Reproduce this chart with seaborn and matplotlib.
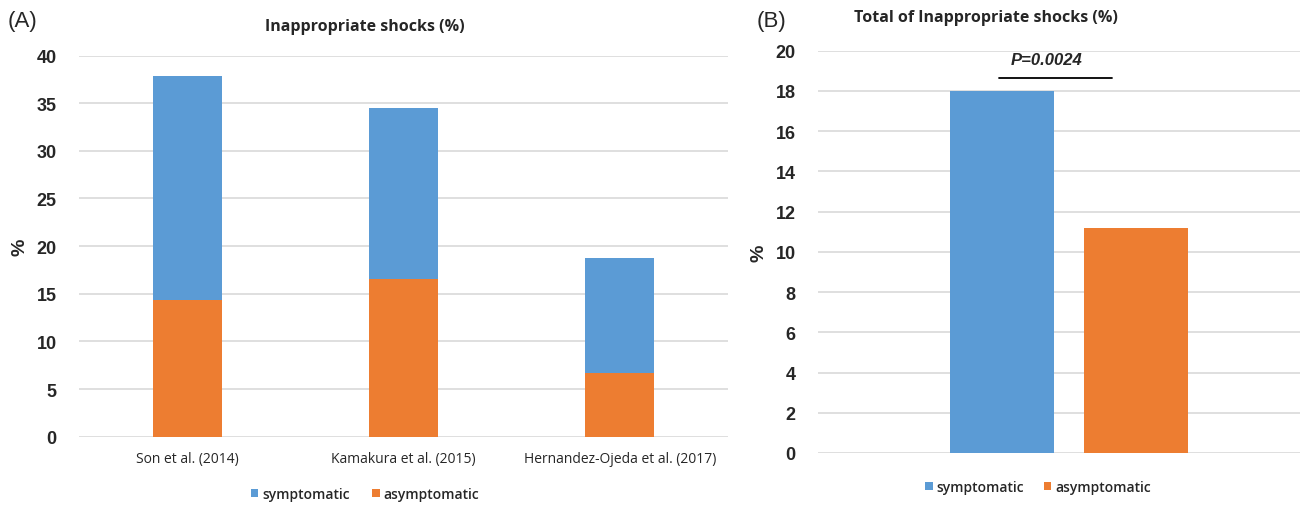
import matplotlib
matplotlib.use("Agg")
import matplotlib.pyplot as plt
import seaborn as sns
import pandas as pd
from matplotlib.patches import Patch

# Per-study inappropriate shock rates (%)
studies = ["Son et al. (2014)", "Kamakura et al. (2015)", "Hernandez-Ojeda et al. (2017)"]
asymptomatic = [14.3, 16.6, 6.7]
symptomatic = [23.5, 17.9, 12.1]

# Pooled totals (%)
groups = ["symptomatic", "asymptomatic"]
totals = [18.0, 11.2]
p_label = "P=0.0024"

BLUE = "#5B9BD5"
ORANGE = "#ED7D31"
GRID = "#D9D9D9"

sns.set_theme(style="white")
plt.rcParams["font.family"] = ["Liberation Sans", "DejaVu Sans"]

fig = plt.figure(figsize=(13.02, 5.06), dpi=100)
ax1 = fig.add_axes([0.0607, 0.135, 0.4984, 0.7533])
ax2 = fig.add_axes([0.6283, 0.1028, 0.3702, 0.795])

# ---- (A) stacked bars per study ----
df_a = pd.DataFrame({
    "study": studies,
    "asym": asymptomatic,
    "total": [a + s for a, s in zip(asymptomatic, symptomatic)],
})
sns.barplot(data=df_a, x="study", y="total", color=BLUE, saturation=1,
            width=0.32, ax=ax1, zorder=3, linewidth=0)
sns.barplot(data=df_a, x="study", y="asym", color=ORANGE, saturation=1,
            width=0.32, ax=ax1, zorder=4, linewidth=0)
ax1.set_ylim(0, 40)
ax1.set_xlim(-0.5, 2.5)
ax1.set_yticks(range(0, 41, 5))
ax1.yaxis.grid(True, color=GRID, linewidth=1.2, zorder=0)
ax1.set_axisbelow(True)
for s in ax1.spines.values():
    s.set_visible(False)
ax1.tick_params(axis="y", length=0, pad=16, labelsize=13)
ax1.tick_params(axis="x", length=0, pad=10, labelsize=10)
for lab in ax1.get_yticklabels():
    lab.set_fontweight("bold")
for lab in ax1.get_xticklabels():
    lab.set_family(["Open Sans", "DejaVu Sans"])
ax1.set_xlabel("")
ax1.set_ylabel("%", fontsize=14, fontweight="bold", labelpad=6)

leg_handles = [Patch(facecolor=BLUE, edgecolor="none", label="symptomatic"),
               Patch(facecolor=ORANGE, edgecolor="none", label="asymptomatic")]
fig.legend(handles=leg_handles, loc="center", bbox_to_anchor=(365 / 1302, 1 - 495 / 506),
           ncol=2, frameon=False, handlelength=0.55, handleheight=0.55,
           handletextpad=0.3, columnspacing=1.6,
           prop={"family": ["Open Sans", "DejaVu Sans"], "size": 10, "weight": "semibold"})

# ---- (B) pooled totals ----
df_b = pd.DataFrame({"group": groups, "value": totals})
sns.barplot(data=df_b, x="group", y="value", hue="group", palette=[BLUE, ORANGE],
            saturation=1, width=0.776, ax=ax2, zorder=3, legend=False, linewidth=0)
ax2.set_ylim(0, 20)
ax2.set_xlim(-1.373, 2.224)
ax2.set_yticks(range(0, 21, 2))
ax2.yaxis.grid(True, color=GRID, linewidth=1.2, zorder=0)
ax2.set_axisbelow(True)
for s in ax2.spines.values():
    s.set_visible(False)
ax2.tick_params(axis="y", length=0, pad=16, labelsize=13)
ax2.set_xticks([])
for lab in ax2.get_yticklabels():
    lab.set_fontweight("bold")
ax2.set_xlabel("")
ax2.set_ylabel("%", fontsize=14, fontweight="bold", labelpad=6)

# significance bracket
ax2.plot([-0.02, 0.82], [18.66, 18.66], color="black", linewidth=1.3, zorder=5)
ax2.text(0.33, 19.55, p_label, ha="center", va="center", fontsize=12,
         fontweight="bold", fontstyle="italic")

fig.legend(handles=leg_handles, loc="center", bbox_to_anchor=(1038 / 1302, 1 - 488 / 506),
           ncol=2, frameon=False, handlelength=0.55, handleheight=0.55,
           handletextpad=0.3, columnspacing=1.4,
           prop={"family": ["Open Sans", "DejaVu Sans"], "size": 10, "weight": "semibold"})

# panel titles and letters
fig.text(365 / 1302, 1 - 27 / 506, "Inappropriate shocks (%)", ha="center", va="center",
         fontsize=11.5, fontweight="bold", family=["Open Sans", "DejaVu Sans"])
fig.text(986 / 1302, 1 - 18 / 506, "Total of Inappropriate shocks (%)", ha="center",
         va="center", fontsize=11.5, fontweight="bold", family=["Open Sans", "DejaVu Sans"])
fig.text(8 / 1302, 1 - 22 / 506, "(A)", ha="left", va="center", fontsize=16)
fig.text(757 / 1302, 1 - 22 / 506, "(B)", ha="left", va="center", fontsize=16)

fig.savefig("out.png", dpi=100)
